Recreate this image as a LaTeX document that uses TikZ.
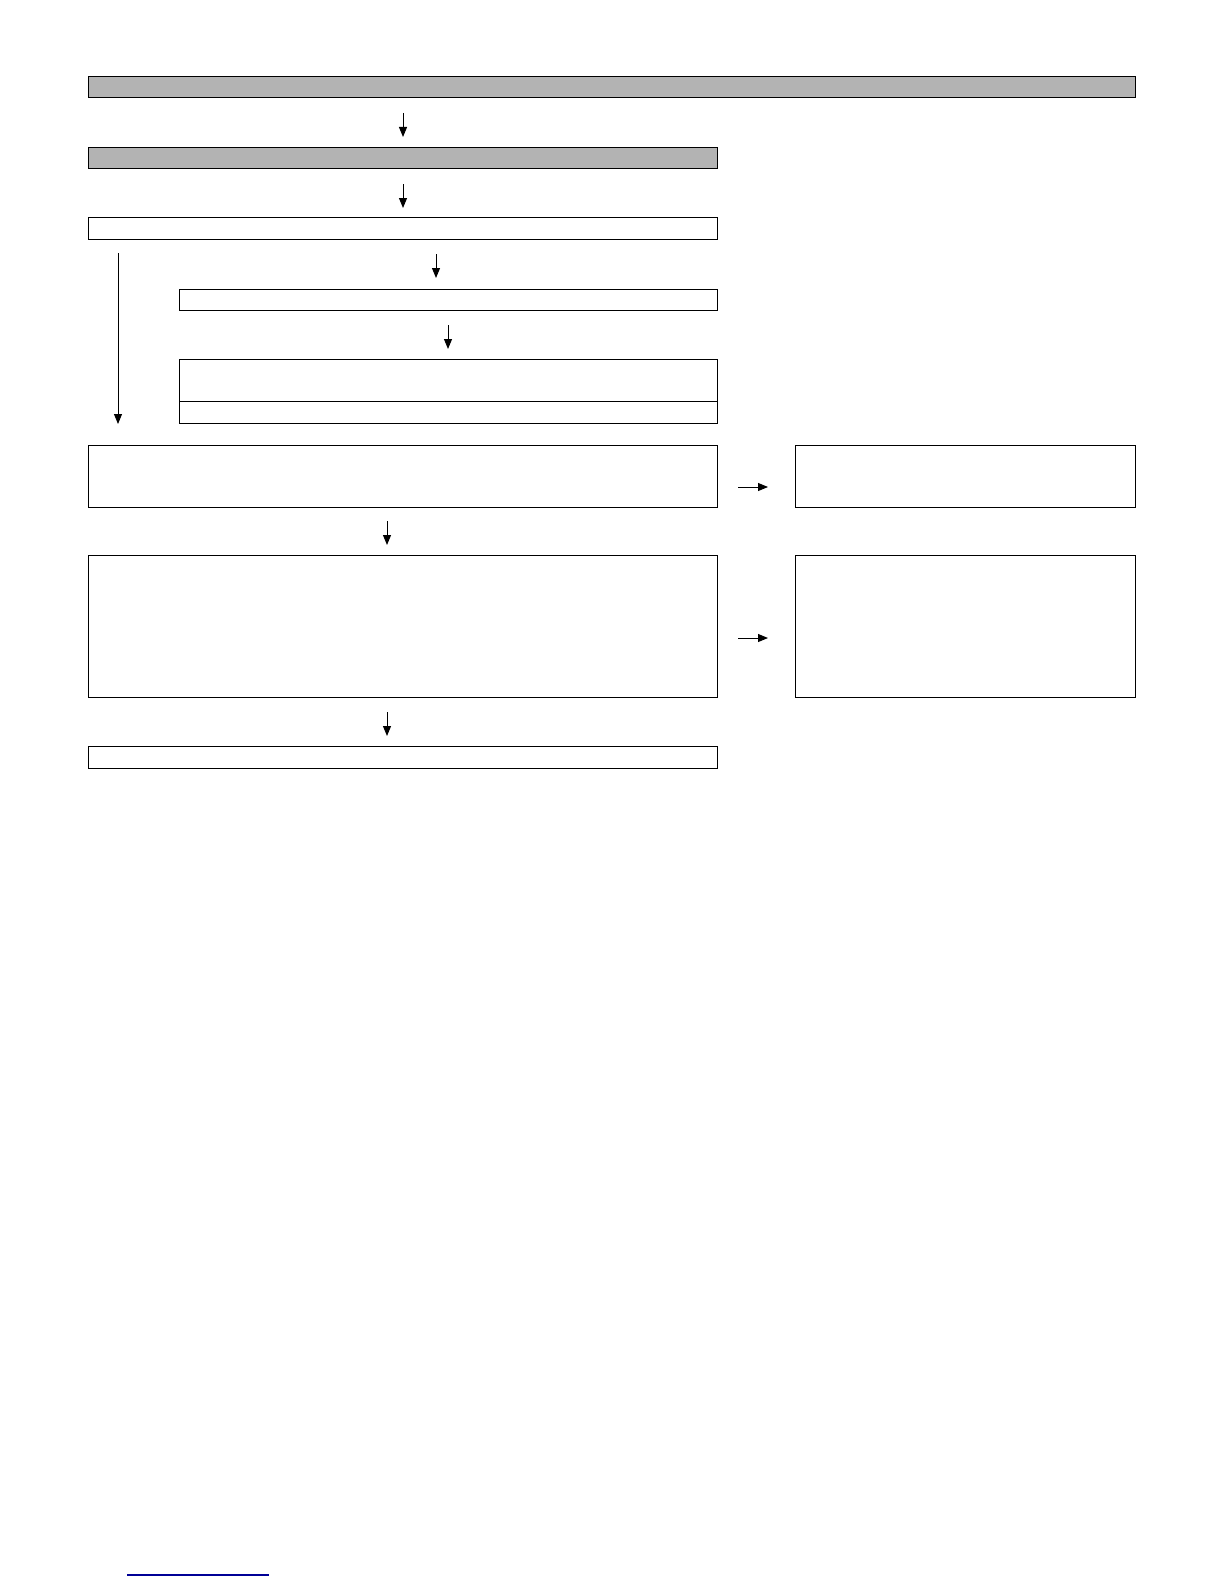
\documentclass[tikz,border=0pt]{standalone}
\usetikzlibrary{arrows.meta}
\definecolor{boxgray}{RGB}{179,179,179}
\definecolor{linkblue}{RGB}{0,0,150}
\tikzset{
  box/.style={draw=black, line width=1pt, fill=white, inner sep=0pt, outer sep=0pt},
  graybox/.style={box, fill=boxgray},
  arr/.style={line width=1pt, -{Triangle[length=10pt,width=8pt]}}
}
\begin{document}
\begin{tikzpicture}[x=1pt,y=-1pt]
\useasboundingbox (0,0) rectangle (1224,1584);
% boxes
\node[graybox, minimum width=1047pt, minimum height=21pt] (b1) at (611.5,87.5) {};
\node[graybox, minimum width=629pt, minimum height=21pt] (b2) at (402.5,157.5) {};
\node[box, minimum width=629pt, minimum height=22pt] (b3) at (402.5,228) {};
\node[box, minimum width=538pt, minimum height=21pt] (b4) at (448,299.5) {};
\node[box, minimum width=538pt, minimum height=64pt] (b5) at (448,391) {};
\draw[line width=1pt] ([yshift=-42pt]b5.north west) -- ([yshift=-42pt]b5.north east);
\node[box, minimum width=629pt, minimum height=62pt] (b6) at (402.5,476) {};
\node[box, minimum width=340pt, minimum height=62pt] (b7) at (965,476) {};
\node[box, minimum width=629pt, minimum height=142pt] (b8) at (402.5,626) {};
\node[box, minimum width=340pt, minimum height=142pt] (b9) at (965,626) {};
\node[box, minimum width=629pt, minimum height=22pt] (b10) at (402.5,757) {};
% arrow end points
\coordinate (a1s) at (403,113); \coordinate (a1e) at (403,137);
\coordinate (a2s) at (403,184); \coordinate (a2e) at (403,208);
\coordinate (lgs) at (118,253); \coordinate (lge) at (118,424);
\coordinate (a3s) at (436,254); \coordinate (a3e) at (436,278);
\coordinate (a4s) at (448,325); \coordinate (a4e) at (448,349);
\coordinate (r1s) at (738,487); \coordinate (r1e) at (768,487);
\coordinate (a5s) at (387,521); \coordinate (a5e) at (387,545);
\coordinate (r2s) at (738,638); \coordinate (r2e) at (768,638);
\coordinate (a6s) at (387,712); \coordinate (a6e) at (387,736);
% connectors
\draw[arr] (a1s) -- (a1e);
\draw[arr] (a2s) -- (a2e);
\draw[arr] (lgs) -- (lge);
\draw[arr] (a3s) -- (a3e);
\draw[arr] (a4s) -- (a4e);
\draw[arr] (r1s) -- (r1e);
\draw[arr] (a5s) -- (a5e);
\draw[arr] (r2s) -- (r2e);
\draw[arr] (a6s) -- (a6e);
% blue underline
\coordinate (ul1) at (127,1575); \coordinate (ul2) at (269,1575);
\draw[linkblue, line width=1.4pt] (ul1) -- (ul2);
\end{tikzpicture}
\end{document}
